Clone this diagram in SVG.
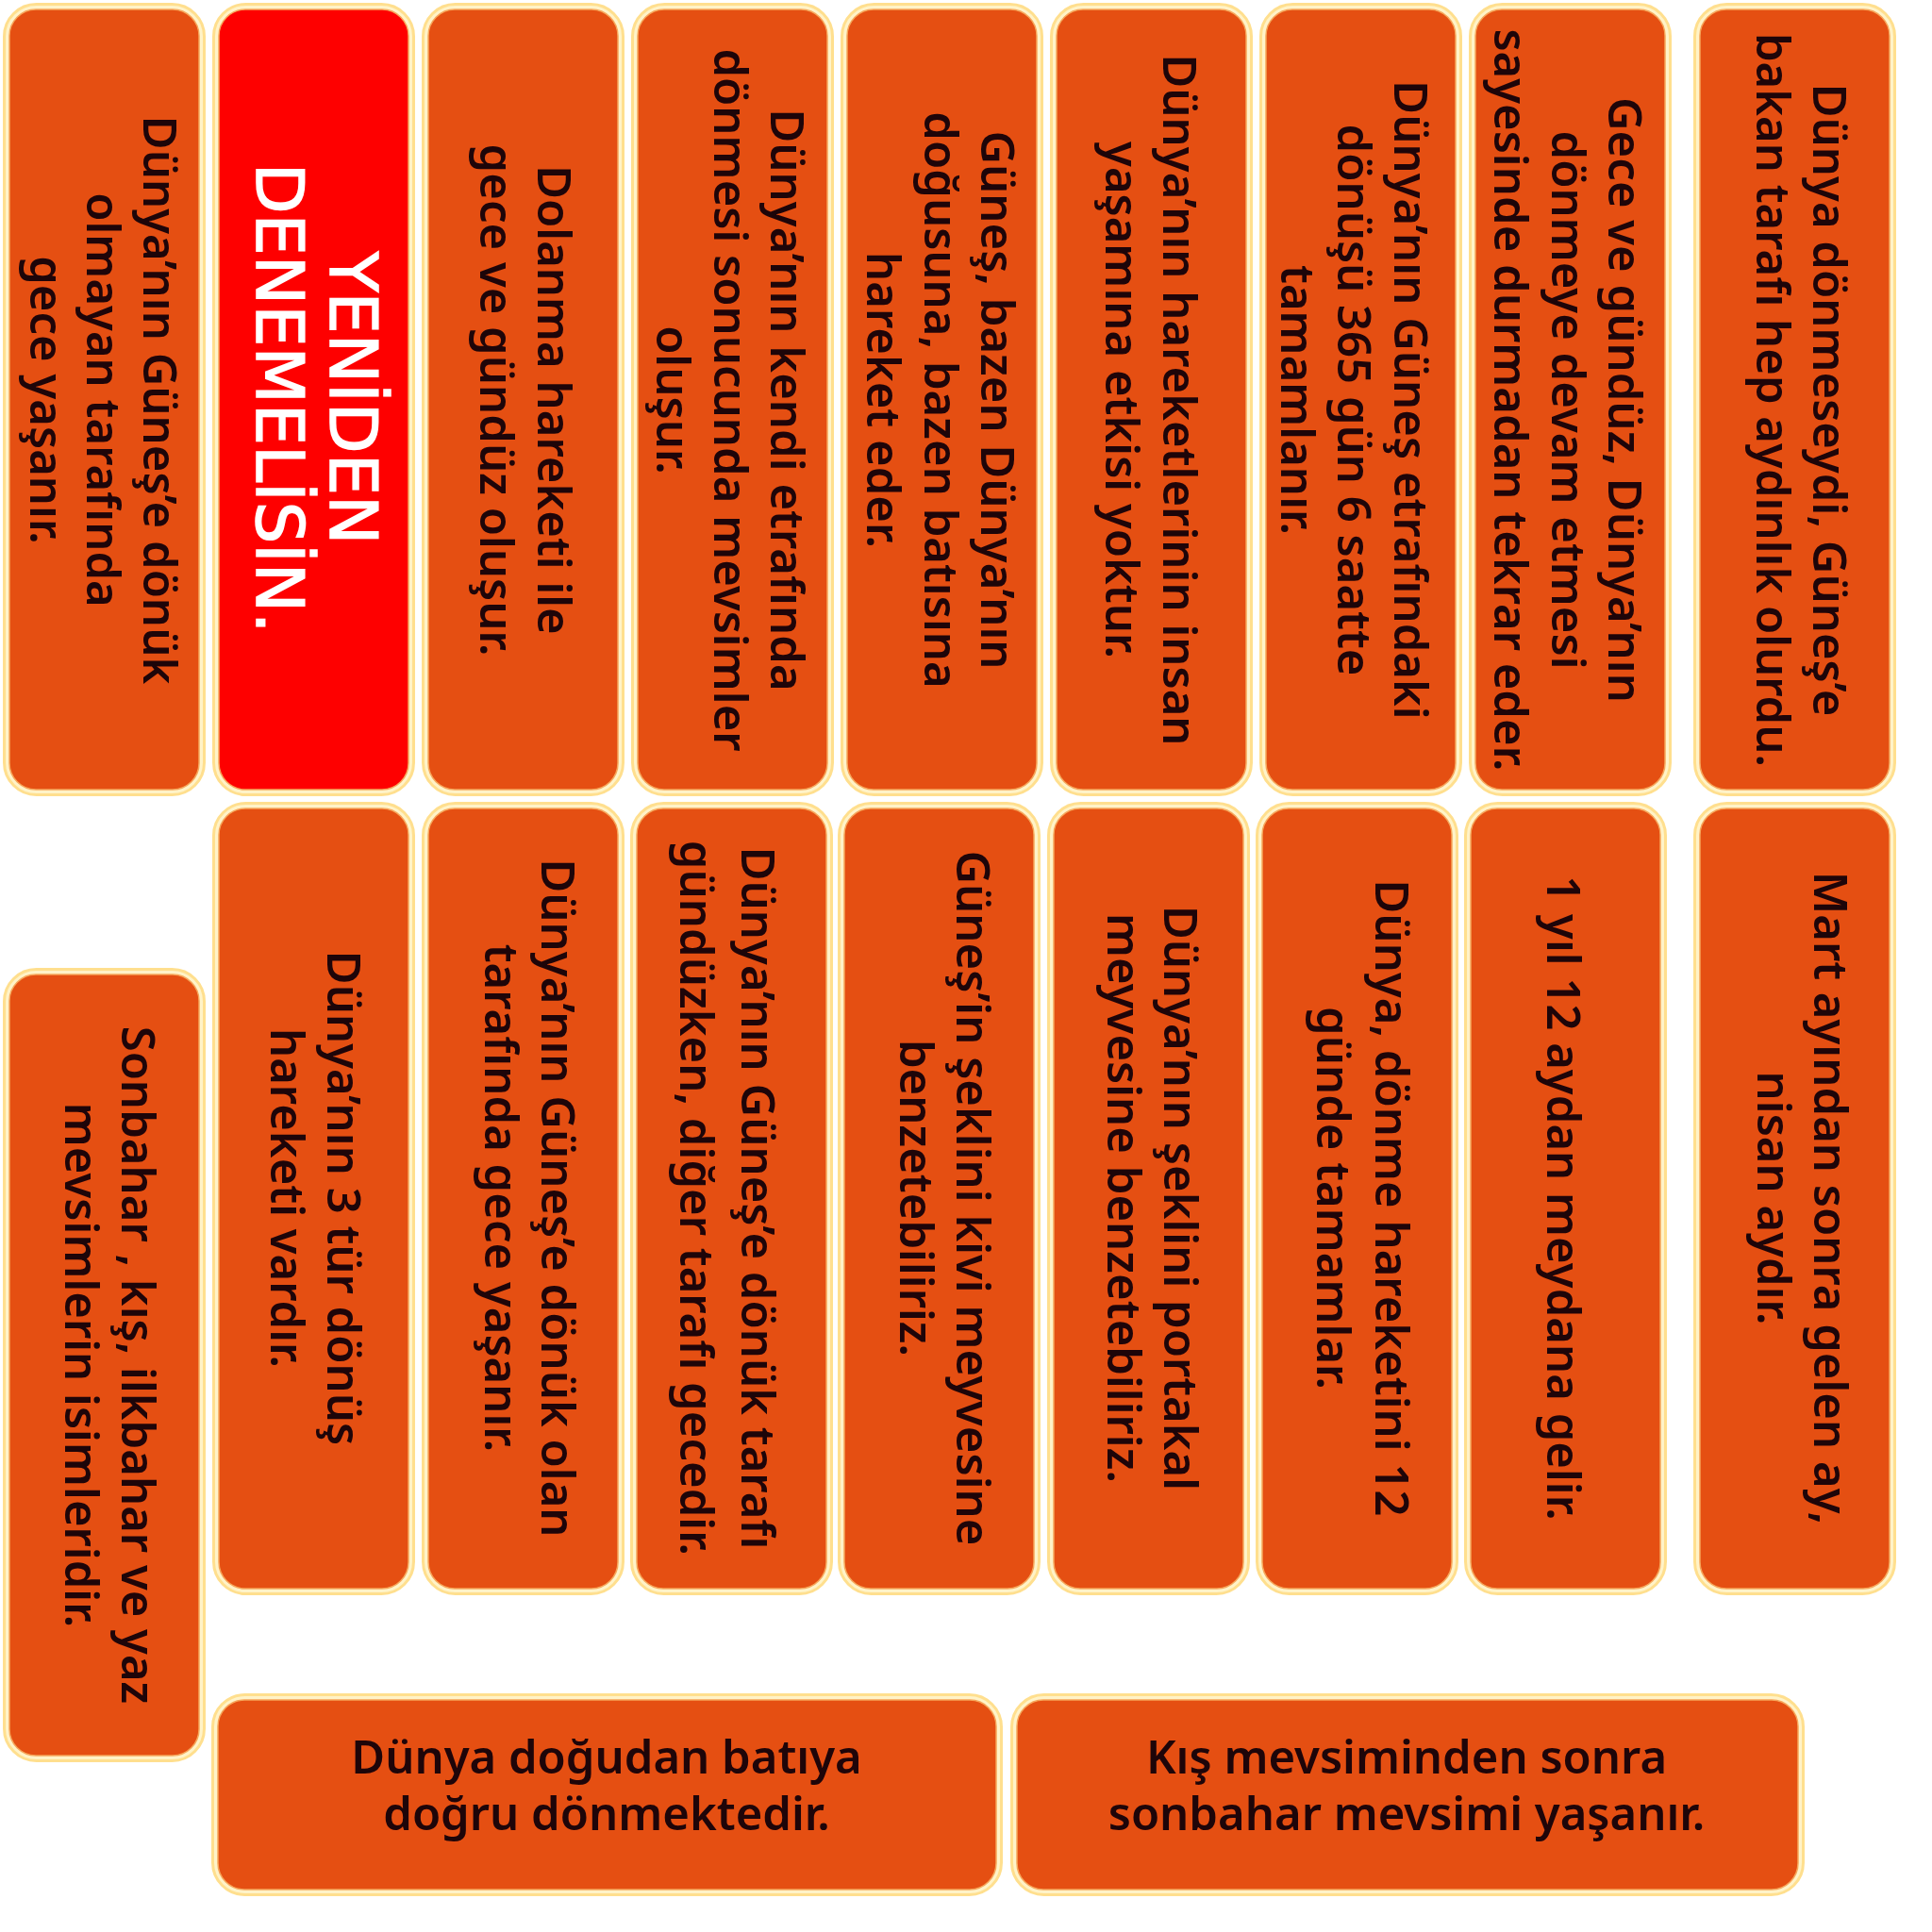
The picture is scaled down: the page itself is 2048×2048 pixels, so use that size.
<svg xmlns="http://www.w3.org/2000/svg" width="2048" height="2048" viewBox="0 0 2048 2048">
<style>
.o{fill:#FFF3C8;stroke:#FFDF8E;stroke-width:3}
.i{fill:#E54F12;stroke:#F6A65A;stroke-width:1.5}
.r{fill:#FE0000;stroke:#F6A65A;stroke-width:1.5}
.t{font-family:"Noto Sans","Open Sans",sans-serif;font-size:49px;font-weight:600;fill:#1E0509;text-anchor:middle}
.w{font-family:"DejaVu Sans",sans-serif;font-size:70px;fill:#FFFFFF;stroke:#FFFFFF;stroke-width:1.5;text-anchor:middle}
</style>
<rect width="2048" height="2048" fill="#FFFFFF"/>
<g id="cards-top">
<g id="c0"><rect class="o" x="4.5" y="4.5" width="212" height="838" rx="34"/><rect class="i" x="10" y="10" width="201" height="827" rx="28"/>
<text class="t" x="152" y="424" transform="rotate(90 152 424)">Dünya’nın Güneş’e dönük</text>
<text class="t" x="92" y="424" transform="rotate(90 92 424)">olmayan tarafında</text>
<text class="t" x="32" y="424" transform="rotate(90 32 424)">gece yaşanır.</text></g>
<g id="c1"><rect class="o" x="226.5" y="4.5" width="212" height="838" rx="34"/><rect class="r" x="232" y="10" width="201" height="827" rx="28"/>
<text class="w" x="350" y="422" transform="rotate(90 350 422)">YENİDEN</text>
<text class="w" x="272" y="422" transform="rotate(90 272 422)">DENEMELİSİN.</text></g>
<g id="c2"><rect class="o" x="448.5" y="4.5" width="212" height="838" rx="34"/><rect class="i" x="454" y="10" width="201" height="827" rx="28"/>
<text class="t" x="570" y="424" transform="rotate(90 570 424)">Dolanma hareketi ile</text>
<text class="t" x="509" y="424" transform="rotate(90 509 424)">gece ve gündüz oluşur.</text></g>
<g id="c3"><rect class="o" x="670.5" y="4.5" width="212" height="838" rx="34"/><rect class="i" x="676" y="10" width="201" height="827" rx="28"/>
<text class="t" x="817" y="424" transform="rotate(90 817 424)">Dünya’nın kendi etrafında</text>
<text class="t" x="757" y="424" transform="rotate(90 757 424)">dönmesi sonucunda mevsimler</text>
<text class="t" x="696" y="424" transform="rotate(90 696 424)">oluşur.</text></g>
<g id="c4"><rect class="o" x="892.5" y="4.5" width="212" height="838" rx="34"/><rect class="i" x="898" y="10" width="201" height="827" rx="28"/>
<text class="t" x="1040" y="424" transform="rotate(90 1040 424)">Güneş, bazen Dünya’nın</text>
<text class="t" x="980" y="424" transform="rotate(90 980 424)">doğusuna, bazen batısına</text>
<text class="t" x="919" y="424" transform="rotate(90 919 424)">hareket eder.</text></g>
<g id="c5"><rect class="o" x="1114.5" y="4.5" width="212" height="838" rx="34"/><rect class="i" x="1120" y="10" width="201" height="827" rx="28"/>
<text class="t" x="1233" y="424" transform="rotate(90 1233 424)">Dünya’nın hareketlerinin insan</text>
<text class="t" x="1172" y="424" transform="rotate(90 1172 424)">yaşamına etkisi yoktur.</text></g>
<g id="c6"><rect class="o" x="1336.5" y="4.5" width="212" height="838" rx="34"/><rect class="i" x="1342" y="10" width="201" height="827" rx="28"/>
<text class="t" x="1478" y="424" transform="rotate(90 1478 424)">Dünya’nın Güneş etrafındaki</text>
<text class="t" x="1418" y="424" transform="rotate(90 1418 424)">dönüşü 365 gün 6 saatte</text>
<text class="t" x="1358" y="424" transform="rotate(90 1358 424)">tamamlanır.</text></g>
<g id="c7"><rect class="o" x="1558.5" y="4.5" width="212" height="838" rx="34"/><rect class="i" x="1564" y="10" width="201" height="827" rx="28"/>
<text class="t" x="1705" y="424" transform="rotate(90 1705 424)">Gece ve gündüz, Dünya’nın</text>
<text class="t" x="1645" y="424" transform="rotate(90 1645 424)">dönmeye devam etmesi</text>
<text class="t" x="1584" y="424" transform="rotate(90 1584 424)">sayesinde durmadan tekrar eder.</text></g>
<g id="c8"><rect class="o" x="1796.5" y="4.5" width="212" height="838" rx="34"/><rect class="i" x="1802" y="10" width="201" height="827" rx="28"/>
<text class="t" x="1922" y="424" transform="rotate(90 1922 424)">Dünya dönmeseydi, Güneş’e</text>
<text class="t" x="1862" y="424" transform="rotate(90 1862 424)">bakan tarafı hep aydınlık olurdu.</text></g>
</g>
<g id="cards-bottom">
<g id="b0"><rect class="o" x="4.5" y="1027.5" width="212" height="839" rx="34"/><rect class="i" x="10" y="1033" width="201" height="828" rx="28"/>
<text class="t" x="129" y="1447" transform="rotate(90 129 1447)">Sonbahar , kış, ilkbahar ve yaz</text>
<text class="t" x="69" y="1447" transform="rotate(90 69 1447)">mevsimlerin isimleridir.</text></g>
<g id="b1"><rect class="o" x="226.5" y="851.5" width="212" height="838" rx="34"/><rect class="i" x="232" y="857" width="201" height="827" rx="28"/>
<text class="t" x="347" y="1270" transform="rotate(90 347 1270)">Dünya’nın 3 tür dönüş</text>
<text class="t" x="287" y="1270" transform="rotate(90 287 1270)">hareketi vardır.</text></g>
<g id="b2"><rect class="o" x="448.5" y="851.5" width="212" height="838" rx="34"/><rect class="i" x="454" y="857" width="201" height="827" rx="28"/>
<text class="t" x="574" y="1270" transform="rotate(90 574 1270)">Dünya’nın Güneş’e dönük olan</text>
<text class="t" x="514" y="1270" transform="rotate(90 514 1270)">tarafında gece yaşanır.</text></g>
<g id="b3"><rect class="o" x="669.5" y="851.5" width="212" height="838" rx="34"/><rect class="i" x="675" y="857" width="201" height="827" rx="28"/>
<text class="t" x="786" y="1270" transform="rotate(90 786 1270)">Dünya’nın Güneş’e dönük tarafı</text>
<text class="t" x="721" y="1270" transform="rotate(90 721 1270)">gündüzken, diğer tarafı gecedir.</text></g>
<g id="b4"><rect class="o" x="889.5" y="851.5" width="212" height="838" rx="34"/><rect class="i" x="895" y="857" width="201" height="827" rx="28"/>
<text class="t" x="1014" y="1270" transform="rotate(90 1014 1270)">Güneş’in şeklini kivi meyvesine</text>
<text class="t" x="954" y="1270" transform="rotate(90 954 1270)">benzetebiliriz.</text></g>
<g id="b5"><rect class="o" x="1111.5" y="851.5" width="212" height="838" rx="34"/><rect class="i" x="1117" y="857" width="201" height="827" rx="28"/>
<text class="t" x="1234" y="1270" transform="rotate(90 1234 1270)">Dünya’nın şeklini portakal</text>
<text class="t" x="1174" y="1270" transform="rotate(90 1174 1270)">meyvesine benzetebiliriz.</text></g>
<g id="b6"><rect class="o" x="1332.5" y="851.5" width="212" height="838" rx="34"/><rect class="i" x="1338" y="857" width="201" height="827" rx="28"/>
<text class="t" x="1458" y="1270" transform="rotate(90 1458 1270)">Dünya, dönme hareketini 12</text>
<text class="t" x="1396" y="1270" transform="rotate(90 1396 1270)">günde tamamlar.</text></g>
<g id="b7"><rect class="o" x="1553.5" y="851.5" width="212" height="838" rx="34"/><rect class="i" x="1559" y="857" width="201" height="827" rx="28"/>
<text class="t" x="1640" y="1270" transform="rotate(90 1640 1270)">1 yıl 12 aydan meydana gelir.</text></g>
<g id="b8"><rect class="o" x="1796.5" y="851.5" width="212" height="838" rx="34"/><rect class="i" x="1802" y="857" width="201" height="827" rx="28"/>
<text class="t" x="1923" y="1270" transform="rotate(90 1923 1270)">Mart ayından sonra gelen ay,</text>
<text class="t" x="1863" y="1270" transform="rotate(90 1863 1270)">nisan aydır.</text></g>
</g>
<g id="cards-horizontal">
<g id="h1"><rect class="o" x="225.5" y="1796.5" width="836" height="212" rx="34"/><rect class="i" x="231" y="1802" width="825" height="201" rx="28"/>
<text class="t" x="643" y="1880">Dünya doğudan batıya</text>
<text class="t" x="643" y="1940">doğru dönmektedir.</text></g>
<g id="h2"><rect class="o" x="1072.5" y="1796.5" width="839" height="212" rx="34"/><rect class="i" x="1078" y="1802" width="828" height="201" rx="28"/>
<text class="t" x="1491" y="1880">Kış mevsiminden sonra</text>
<text class="t" x="1491" y="1940">sonbahar mevsimi yaşanır.</text></g>
</g>
<g id="connectors"></g>
</svg>
